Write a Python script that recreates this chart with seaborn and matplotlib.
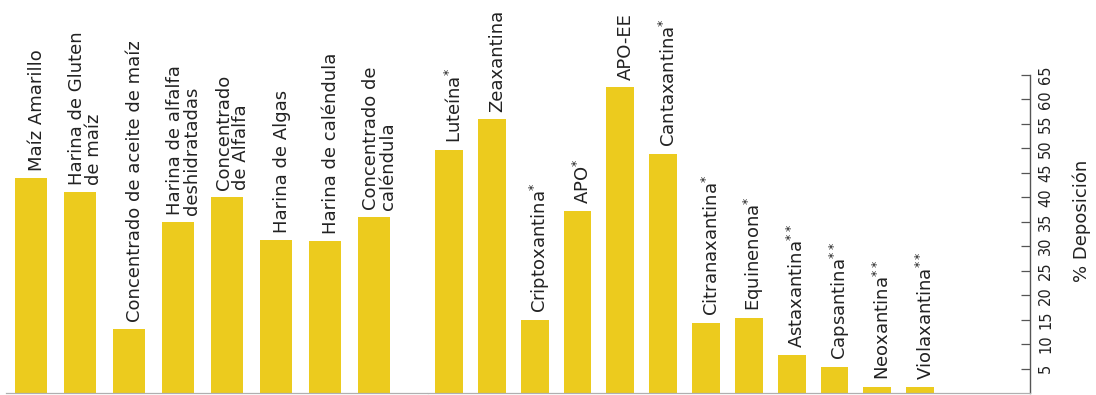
import matplotlib
matplotlib.use("Agg")
import matplotlib.pyplot as plt
import seaborn as sns

# Ingredientes naturales (grupo izquierdo) y carotenoides (grupo derecho)
ingredientes = [
    "Maíz Amarillo",
    "Harina de Gluten\nde maíz",
    "Concentrado de aceite de maíz",
    "Harina de alfalfa\ndeshidratadas",
    "Concentrado\nde Alfalfa",
    "Harina de Algas",
    "Harina de caléndula",
    "Concentrado de\ncaléndula",
]
deposicion_ingredientes = [44, 41, 13, 35, 40, 31.3, 31.1, 36]

carotenoides = [
    "Luteína*",
    "Zeaxantina",
    "Criptoxantina*",
    "APO*",
    "APO-EE",
    "Cantaxantina*",
    "Citranaxantina*",
    "Equinenona*",
    "Astaxantina**",
    "Capsantina**",
    "Neoxantina**",
    "Violaxantina**",
]
deposicion_carotenoides = [49.6, 56, 15, 37.3, 62.5, 48.8, 14.3, 15.4, 7.8, 5.3, 1.2, 1.2]

y_ticks = list(range(5, 70, 5))

AMARILLO = "#ECCB1E"
TEXTO = "#222222"


def etiqueta(nombre):
    """Las llamadas con asterisco se escriben como superíndice."""
    base = nombre.rstrip("*")
    marcas = nombre[len(base):]
    return base + (f"$^{{{marcas}}}$" if marcas else "")


sns.set_theme(style="white")
plt.rcParams["font.family"] = ["DejaVu Sans"]
plt.rcParams["mathtext.default"] = "regular"

fig = plt.figure(figsize=(10.96, 3.95), dpi=100)
# The left panel runs up to the right one so the baseline looks continuous
ax_l = fig.add_axes([0.00593, 0.00506, 0.3842, 0.805])
ax_r = fig.add_axes([0.3901, 0.00506, 0.5496, 0.805])

for ax, cats, vals, xmax in [
    (ax_l, ingredientes, deposicion_ingredientes, 8.094),
    (ax_r, carotenoides, deposicion_carotenoides, 13.56),
]:
    sns.barplot(x=cats, y=vals, ax=ax, color=AMARILLO, saturation=1,
                width=0.65, edgecolor="none")
    ax.set_xlim(-0.5, xmax)
    ax.set_ylim(0, 65)
    ax.set_xticks([])
    ax.set_xlabel("")
    for i, (c, v) in enumerate(zip(cats, vals)):
        ax.annotate(etiqueta(c), xy=(i, v), xytext=(4, 5),
                    textcoords="offset points", rotation=90, ha="center",
                    va="bottom", multialignment="left", fontsize=13,
                    color=TEXTO, linespacing=0.9, annotation_clip=False)
    for side in ["top", "left", "right"]:
        ax.spines[side].set_visible(False)
    ax.spines["bottom"].set_color("#b0b0b0")
    ax.spines["bottom"].set_linewidth(0.9)

ax_l.set_yticks([])

# Eje de porcentaje a la derecha
ax_r.spines["right"].set_visible(True)
ax_r.spines["right"].set_color("#555555")
ax_r.spines["right"].set_linewidth(1.0)
ax_r.yaxis.tick_right()
ax_r.yaxis.set_label_position("right")
ax_r.set_yticks(y_ticks)
ax_r.tick_params(axis="y", direction="in", length=6.5, width=0.9,
                 color="#555555", pad=6, labelsize=10.5, labelcolor=TEXTO)
for lbl in ax_r.get_yticklabels():
    lbl.set_rotation(90)
    lbl.set_va("center")
    lbl.set_ha("left")
ax_r.set_ylabel("% Deposición", fontsize=13, color=TEXTO, labelpad=14, y=0.54)

fig.savefig("out.png", dpi=100)
